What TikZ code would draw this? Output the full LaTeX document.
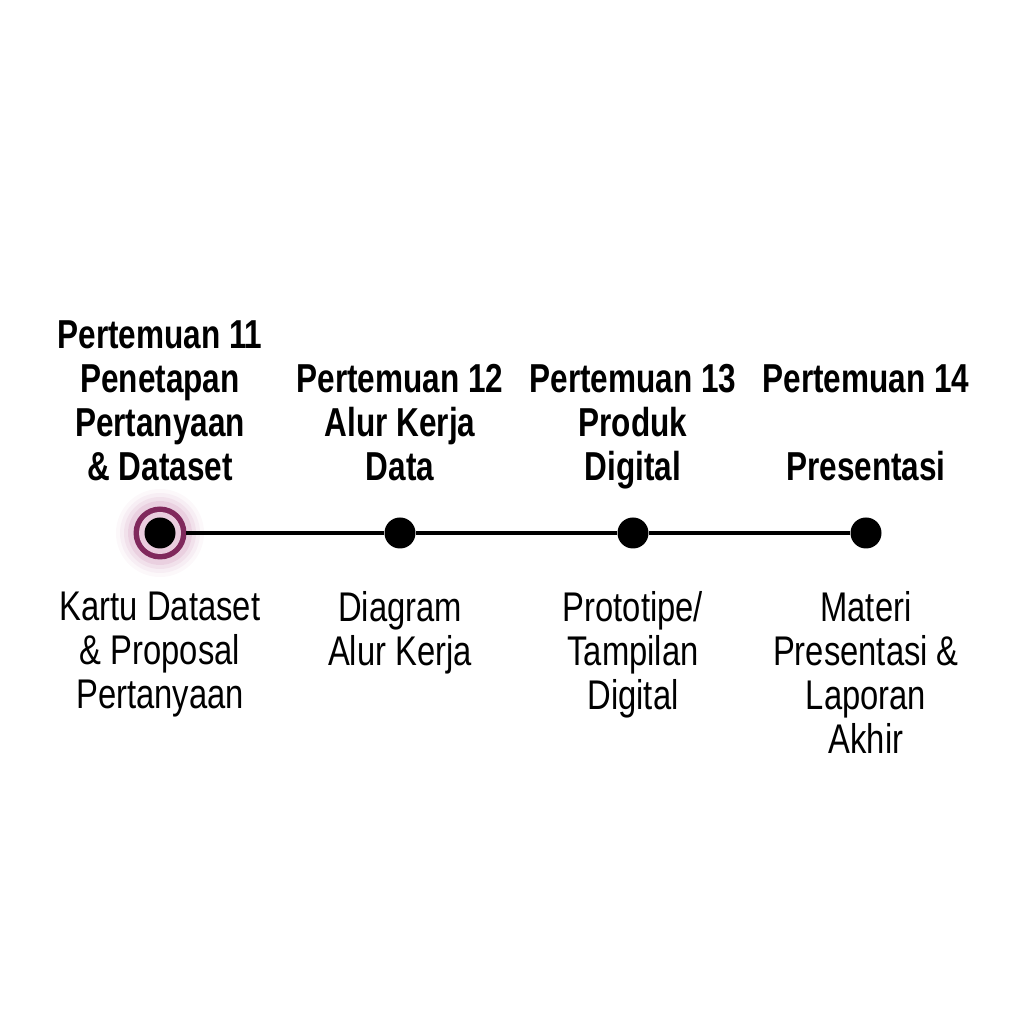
\documentclass[tikz,border=0pt]{standalone}
\usepackage{fontspec}
\setmainfont{Liberation Sans}
\newfontfamily\headfont[FakeStretch=0.78]{Liberation Sans}
\newfontfamily\notefont[FakeStretch=0.79]{Liberation Sans}
\definecolor{ringpurple}{RGB}{128,40,92}
\definecolor{ringpink}{RGB}{234,204,222}
\definecolor{glowpink}{RGB}{190,110,160}
\tikzset{
  dot/.style={circle,fill=black,inner sep=0pt,minimum size=0.31cm},
  head/.style={anchor=south,align=center,inner sep=0pt,
    font=\headfont\bfseries\fontsize{11.5}{12.5}\selectfont},
  note/.style={anchor=north,align=center,inner sep=0pt,
    font=\notefont\fontsize{11.8}{12.5}\selectfont}
}
\begin{document}
\begin{tikzpicture}
      \useasboundingbox (0,0) rectangle (10.24,10.24);
      % glow of the current meeting
      \foreach \r/\o in {0.44/0.05,0.40/0.07,0.36/0.10,0.32/0.14}
        \fill[glowpink,opacity=\o] (1.60,4.91) circle (\r);
      \fill[ringpurple] (1.60,4.91) circle (0.265);
      \fill[ringpink] (1.60,4.91) circle (0.21);
      \draw
        (1.60,4.91) node[dot] (11){}
        (4.00,4.91) node[dot] (12){}
        (6.33,4.91) node[dot] (13){}
        (8.66,4.91) node[dot] (14){};
      \begin{scope}[-,line width=1.15pt]
        \draw (1.86,4.91) to (12);
        \draw (12) to (13);
        \draw (13) to (14);
      \end{scope}
      \draw
        (1.60,5.30) node[head] (h11){Pertemuan 11\\Penetapan\\Pertanyaan\\\& Dataset\strut}
        (4.00,5.30) node[head] (h12){Pertemuan 12\\Alur Kerja\\Data\strut}
        (6.33,5.30) node[head] (h13){Pertemuan 13\\Produk\\Digital\strut}
        (8.66,5.30) node[head] (h14){Pertemuan 14\\\strut\\Presentasi\strut};
      \draw
        (1.60,4.33) node[note] (n11){Kartu Dataset\\\& Proposal\\Pertanyaan}
        (4.00,4.33) node[note] (n12){Diagram\\Alur Kerja}
        (6.33,4.33) node[note] (n13){Prototipe/\\Tampilan\\Digital}
        (8.66,4.33) node[note] (n14){Materi\\Presentasi \&\\Laporan\\Akhir};
    \end{tikzpicture}
\end{document}
